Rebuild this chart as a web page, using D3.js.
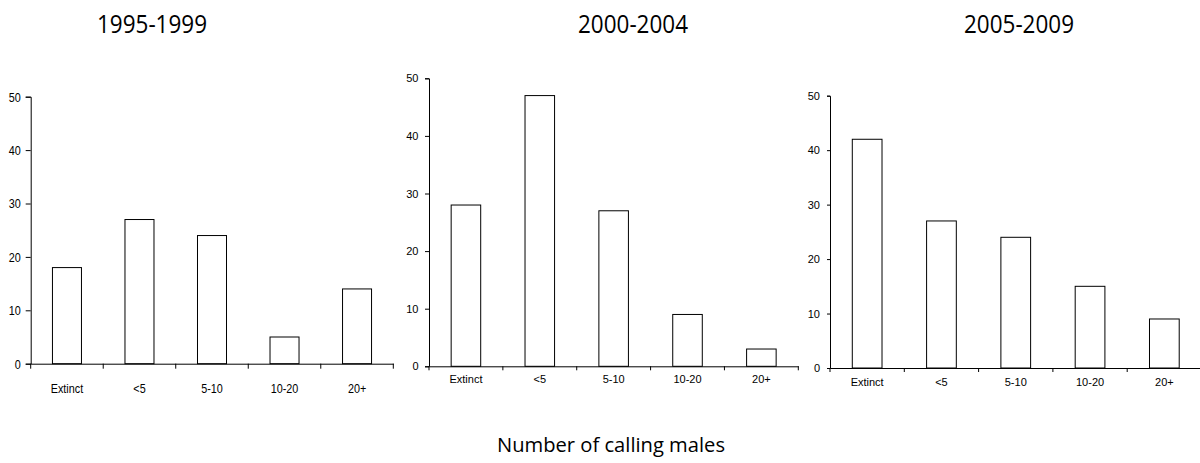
<!DOCTYPE html>
<html>
<head>
<meta charset="utf-8">
<script src="https://cdn.jsdelivr.net/npm/d3@7"></script>
<style>
  html, body { margin: 0; padding: 0; background: #fff; }
  svg { display: block; }
</style>
</head>
<body>
<svg id="chart" width="1200" height="463"></svg>
<script>
// ---- data ----
const categories = ["Extinct", "<5", "5-10", "10-20", "20+"];
const periods = ["1995-1999", "2000-2004", "2005-2009"];
const values1995 = [18, 27, 24, 5, 14];
const values2000 = [28, 47, 27, 9, 3];
const values2005 = [42, 27, 24, 15, 9];
const yTicks = [0, 10, 20, 30, 40, 50];
const xAxisTitle = "Number of calling males";

// ---- layout (pixels) ----
const panels = [
  { title: periods[0], values: values1995, x0: 30.7, x1: 393.3, y0: 363.7, y1: 96.7,
    titleX: 152, font: "'Liberation Sans',Arial,sans-serif", fs: 13.5, squeeze: 0.8,
    yTick: 5, yPad: 5, xTick: 5, labelBase: 393 },
  { title: periods[1], values: values2000, x0: 429, x1: 798.3, y0: 366.3, y1: 78.3,
    titleX: 633, font: "'Liberation Sans',Arial,sans-serif", fs: 11, squeeze: 1,
    yTick: 4, yPad: 6.5, xTick: 4, labelBase: 383.3 },
  { title: periods[2], values: values2005, x0: 830, x1: 1201.5, y0: 368, y1: 95.7,
    titleX: 1019, font: "'Liberation Sans',Arial,sans-serif", fs: 11, squeeze: 1,
    yTick: 3, yPad: 7, xTick: 4, labelBase: 386 }
];

const svg = d3.select("#chart");

function squeezeText(sel, k) {
  if (k === 1) return;
  sel.each(function() {
    const len = this.getComputedTextLength();
    d3.select(this).attr("textLength", len * k).attr("lengthAdjust", "spacingAndGlyphs");
  });
}

panels.forEach(p => {
  const g = svg.append("g");
  const x = d3.scaleBand().domain(categories).range([p.x0, p.x1])
    .paddingInner(0.6).paddingOuter(0.3);
  const y = d3.scaleLinear().domain([0, 50]).range([p.y0, p.y1]);

  // bars
  g.selectAll("rect.bar").data(categories).join("rect")
    .attr("class", "bar")
    .attr("x", d => x(d))
    .attr("width", x.bandwidth())
    .attr("y", (d, i) => y(p.values[i]))
    .attr("height", (d, i) => y(0) - y(p.values[i]))
    .attr("fill", "#fff")
    .attr("stroke", "#000")
    .attr("stroke-width", 1);

  // y axis
  const ya = g.append("g").attr("transform", `translate(${p.x0},0)`)
    .call(d3.axisLeft(y).tickValues(yTicks).tickSizeOuter(0)
      .tickSize(p.yTick).tickPadding(p.yPad).tickFormat(d3.format("d")));
  ya.select(".domain").attr("stroke", "#000");
  ya.selectAll(".tick line").attr("stroke", "#000");
  ya.selectAll("text").attr("font-family", p.font).attr("font-size", p.fs).attr("fill", "#000")
    .call(squeezeText, p.squeeze);

  // x axis line + category labels
  const xa = g.append("g").attr("transform", `translate(0,${p.y0})`)
    .call(d3.axisBottom(x).tickSize(0).tickSizeOuter(0).tickPadding(0));
  xa.select(".domain").attr("stroke", "#000");
  xa.selectAll(".tick text")
    .attr("font-family", p.font).attr("font-size", p.fs).attr("fill", "#000")
    .attr("dy", null)
    .attr("y", p.labelBase - p.y0)
    .call(squeezeText, p.squeeze);

  // category boundary ticks
  const step = x.step();
  const bounds = d3.range(categories.length + 1).map(i => x.range()[0] + i * step);
  g.selectAll("line.btick").data(bounds).join("line")
    .attr("class", "btick")
    .attr("x1", d => d).attr("x2", d => d)
    .attr("y1", p.y0).attr("y2", p.y0 + p.xTick)
    .attr("stroke", "#000");

  // title
  svg.append("text")
    .attr("x", p.titleX).attr("y", 33)
    .attr("text-anchor", "middle")
    .attr("font-family", "'Open Sans','Noto Sans',sans-serif")
    .attr("font-size", 25)
    .attr("textLength", 110)
    .attr("lengthAdjust", "spacingAndGlyphs")
    .attr("fill", "#000")
    .text(p.title);
});

svg.append("text")
  .attr("x", 611).attr("y", 451.5)
  .attr("text-anchor", "middle")
  .attr("font-family", "'Open Sans','Noto Sans',sans-serif")
  .attr("font-size", 20)
  .attr("textLength", 228)
  .attr("lengthAdjust", "spacingAndGlyphs")
  .attr("fill", "#000")
  .text(xAxisTitle);
</script>
</body>
</html>
